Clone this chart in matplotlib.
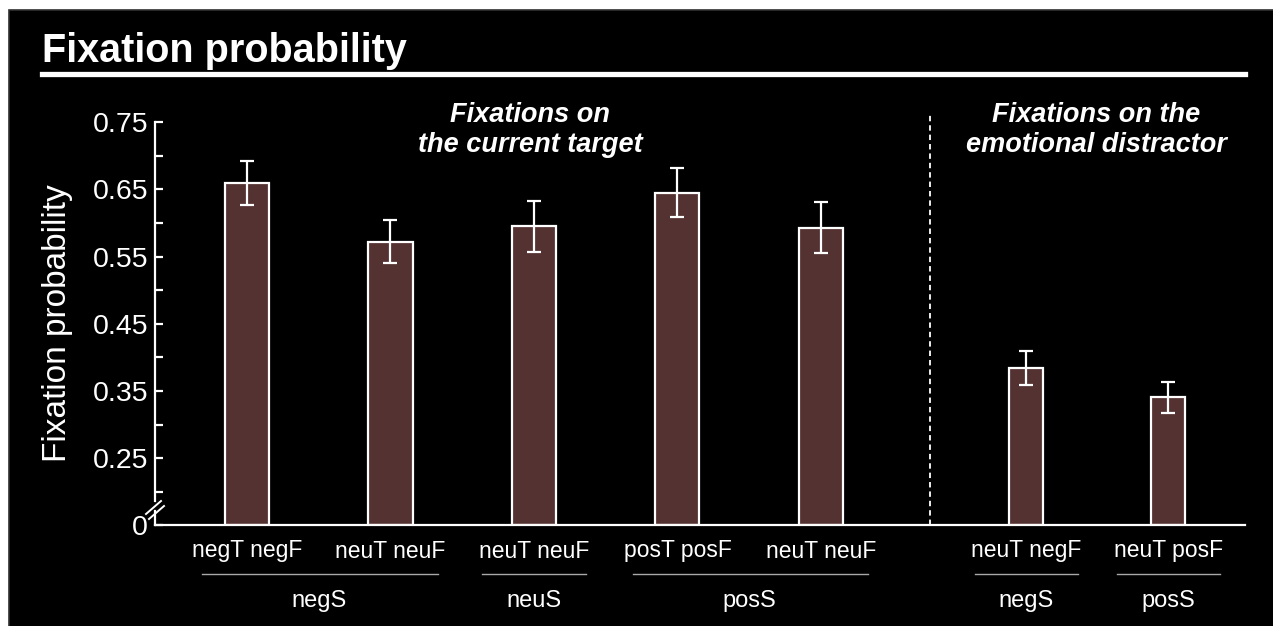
import matplotlib
matplotlib.use("Agg")
import matplotlib.pyplot as plt
import matplotlib.transforms as mtransforms
from matplotlib.patches import Rectangle

# ---- data ----
conditions = ["negT negF", "neuT neuF", "neuT neuF", "posT posF", "neuT neuF",
              "neuT negF", "neuT posF"]
fix_prob = [0.659, 0.572, 0.595, 0.645, 0.593, 0.384, 0.341]
fix_err = [0.033, 0.032, 0.038, 0.036, 0.038, 0.025, 0.023]
groups = ["negS", "neuS", "posS", "negS", "posS"]
group_members = [[0, 1], [2], [3, 4], [5], [6]]
panel_titles = ["Fixations on\nthe current target",
                "Fixations on the\nemotional distractor"]
major_ticks = [0.25, 0.35, 0.45, 0.55, 0.65, 0.75]
major_labels = ["0.25", "0.35", "0.45", "0.55", "0.65", "0.75"]
minor_ticks = [0.20, 0.30, 0.40, 0.50, 0.60, 0.70]

# ---- layout ----
xpos = [0.0, 1.0, 2.0, 3.0, 4.0, 5.43, 6.42]
widths = [0.307, 0.307, 0.307, 0.307, 0.307, 0.237, 0.237]
y_base = 0.151          # value at which the broken axis meets the x axis
divider_x = 4.76
W, H = 1273, 626

font = "Liberation Sans"
plt.rcParams["font.family"] = [font, "DejaVu Sans"]

fig = plt.figure(figsize=(W / 100, H / 100), dpi=100, facecolor="white")

# black slide background (runs off the right and bottom edges)
bg = Rectangle((9 / W, -0.05), 1.1, 1.05 - 10 / H,
               transform=fig.transFigure, facecolor="black",
               edgecolor="#303030", linewidth=1.2, zorder=-10)
fig.patches.append(bg)

ax = fig.add_axes([155 / W, 1 - 525 / H, 1090 / W, (525 - 122) / H])
ax.set_zorder(1)
ax.set_facecolor("none")
ax.set_xlim(-0.641, 6.955)
ax.set_ylim(y_base, 0.75)

bar_color = "#553232"
ax.bar(xpos, [v - y_base for v in fix_prob], width=widths, bottom=y_base,
       color=bar_color, edgecolor="white", linewidth=1.6, zorder=2)
ax.errorbar(xpos, fix_prob, yerr=fix_err, fmt="none", ecolor="white",
            elinewidth=1.6, capsize=4.7, capthick=1.6, zorder=3)

# spines
for side in ("top", "right"):
    ax.spines[side].set_visible(False)
for side in ("left", "bottom"):
    ax.spines[side].set_color("white")
    ax.spines[side].set_linewidth(1.6)
ax.spines["left"].set_bounds(0.187, 0.75)

ax.set_yticks([y_base] + major_ticks, ["0"] + major_labels)
ax.set_yticks(minor_ticks, minor=True)
ax.tick_params(axis="y", which="both", direction="in", length=6, width=1.6,
               color="white", labelcolor="white", labelsize=20.5, pad=5)
ax.set_xticks([])

# axis-break marks
def px(xp, yp):
    return ((xp - 155) / 1090, (525 - yp) / 403)

for (x0, y0, x1, y1) in [(146, 514, 161, 501), (149, 519, 164, 506)]:
    a, b = px(x0, y0)
    c, d = px(x1, y1)
    ax.plot([a, c], [b, d], color="white", lw=1.4, transform=ax.transAxes,
            clip_on=False)
a, b = px(155, 525)
c, d = px(155, 511)
ax.plot([a, c], [b, d], color="white", lw=1.6, transform=ax.transAxes,
        clip_on=False)

ax.set_ylabel("Fixation probability", color="white", fontsize=24, labelpad=14)

# divider between the two panels
ax.plot([divider_x, divider_x], [y_base, 0.764], color="white", lw=1.3,
        linestyle=(0, (3, 2.2)), clip_on=False, zorder=1)

# condition labels and grouping lines below the axis
tr = mtransforms.blended_transform_factory(ax.transData, fig.transFigure)
for x, lab in zip(xpos, conditions):
    ax.text(x, 1 - 551 / H, lab, transform=tr, ha="center", va="center",
            color="white", fontsize=16.5)
for name, members in zip(groups, group_members):
    xs = [xpos[i] for i in members]
    if len(members) > 1:
        lo, hi = min(xs) - 0.31, max(xs) + 0.33
    else:
        lo, hi = xs[0] - 0.36, xs[0] + 0.36
    ax.plot([lo, hi], [1 - 574 / H] * 2, transform=tr, color="#a8a8a8",
            lw=1.0, clip_on=False)
    ax.text((min(xs) + max(xs)) / 2, 1 - 601 / H, name, transform=tr,
            ha="center", va="center", color="white", fontsize=17)

# panel headings
for xc, txt in zip([530 / W, 1096 / W], panel_titles):
    fig.text(xc, 1 - 130 / H, txt, ha="center", va="center",
             multialignment="center", color="white", fontsize=19.5,
             fontweight="bold", fontstyle="italic", linespacing=1.2)

# slide title with rule
fig.text(42 / W, 1 - 62 / H, "Fixation probability", ha="left",
         va="baseline", color="white", fontsize=28.5, fontweight="bold")
fig.add_artist(plt.Line2D([42 / W, 1245 / W], [1 - 74 / H] * 2,
                          color="white", lw=3.8, transform=fig.transFigure))

fig.savefig("out.png", dpi=100, facecolor=fig.get_facecolor())
